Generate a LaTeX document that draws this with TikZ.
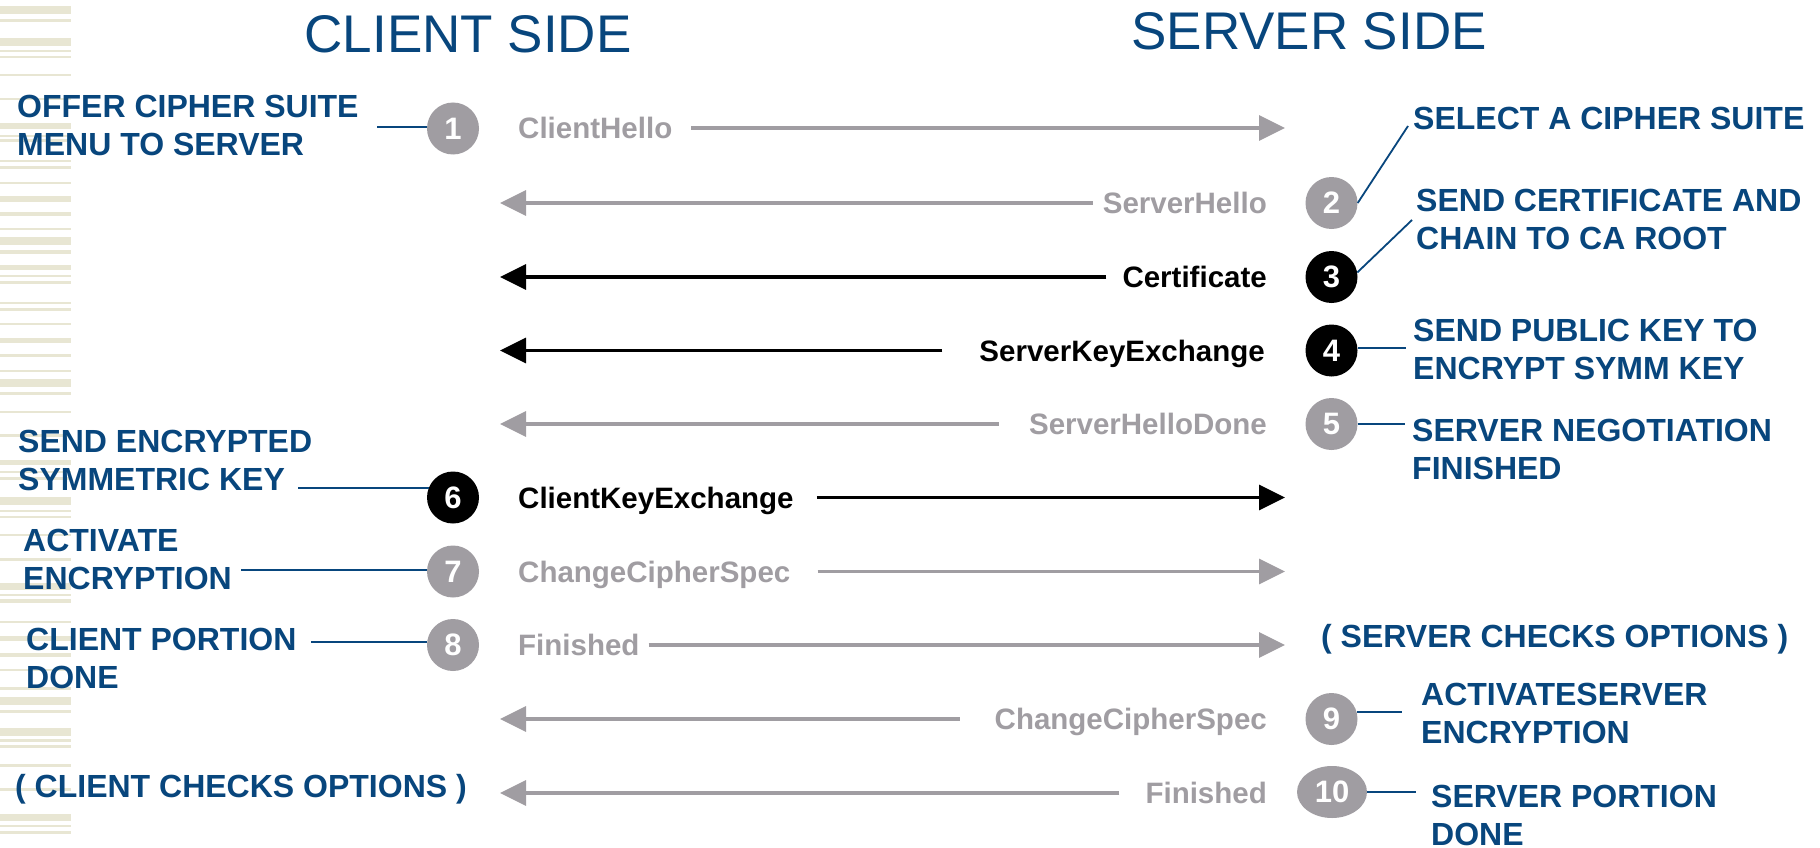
\documentclass[tikz,border=0pt]{standalone}
\usepackage{fontspec}
\setmainfont{Liberation Sans}
\usetikzlibrary{arrows.meta,shapes.geometric}
\definecolor{navy}{RGB}{8,70,125}
\definecolor{msggray}{RGB}{160,157,162}
\definecolor{stripe}{RGB}{232,230,211}
\begin{document}
\begin{tikzpicture}[x=1pt,y=-1pt,
  title/.style={font=\fontsize{53}{60}\selectfont, text=navy, inner sep=0, anchor=base},
  lbl/.style={font=\bfseries\fontsize{32}{38}\selectfont, text=navy, inner sep=0, align=left, anchor=north west},
  lblone/.style={font=\bfseries\fontsize{32}{38}\selectfont, text=navy, inner sep=0, anchor=base west},
  msg/.style={font=\bfseries\fontsize{29.5}{34}\selectfont, inner sep=0},
  gmsg/.style={msg, text=msggray},
  bmsg/.style={msg, text=black},
  num/.style={circle, minimum size=52pt, inner sep=0, text=white, font=\bfseries\fontsize{31}{34}\selectfont},
  gnum/.style={num, fill=msggray},
  bnum/.style={num, fill=black},
  link/.style={draw=navy, line width=1.8pt},
  garrow/.style={draw=msggray, line width=3.5pt, -{Triangle[length=26pt,width=25pt]}},
  barrow/.style={draw=black, line width=3.5pt, -{Triangle[length=26pt,width=25pt]}}
]
\useasboundingbox (0,0) rectangle (1820,848);
\fill[white] (0,0) rectangle (1820,848);
% decorative stripes
\foreach \a/\b in {6/14, 19/22, 38/46, 50/52, 56/58, 74/76, 98/100, 123/129, 135/137, 139/142, 160/162, 166/169, 182/184, 196/202, 212/216, 228/230, 237/245, 250/254, 265/270, 275/277, 281/284, 302/304, 308/311, 323/325, 338/343, 354/357, 370/372, 379/387, 392/395, 411/413, 434/437, 460/465, 471/473, 477/480, 497/505, 510/512, 516/518, 534/536, 558/561, 583/590, 594/596, 599/603, 621/623, 636/641, 653/657, 669/671, 687/690, 697/705, 710/713, 728/736, 739/742, 745/748, 764/767, 788/791, 814/821, 825/827, 831/834}
  \fill[stripe] (0,\a) rectangle (71,\b);

% titles
\node[title] (client) at (468,53) {CLIENT SIDE};
\node[title] (server) at (1309,50) {SERVER SIDE};

% arrow end coordinates
\coordinate (s1) at (1285,128);
\coordinate (c2) at (500,203);
\coordinate (c3) at (500,277);
\coordinate (c4) at (500,350.5);
\coordinate (c5) at (500,424);
\coordinate (s6) at (1285,497.5);
\coordinate (s7) at (1285,571.5);
\coordinate (s8) at (1285,645);
\coordinate (c9) at (500,719);
\coordinate (c10) at (500,793);

% number circles
\node[gnum] (n1) at (453,128.5) {1};
\node[gnum] (n2) at (1331.5,203) {2};
\node[bnum] (n3) at (1331.5,277) {3};
\node[bnum] (n4) at (1331.5,350.5) {4};
\node[gnum] (n5) at (1331.5,424) {5};
\node[bnum] (n6) at (453,497.5) {6};
\node[gnum] (n7) at (453,571.5) {7};
\node[gnum] (n8) at (453,645) {8};
\node[gnum] (n9) at (1331.5,719) {9};
\node[gnum, shape=ellipse, minimum width=70pt, minimum height=52pt] (n10) at (1332,792) {10};

% messages (baseline = row + 10.5)
\node[gmsg, anchor=base west] (t1) at (518,138.5) {ClientHello};
\node[gmsg, anchor=base east] (t2) at (1267,213.5) {ServerHello};
\node[bmsg, anchor=base east] (t3) at (1267,287.5) {Certificate};
\node[bmsg, anchor=base east] (t4) at (1265,361) {ServerKeyExchange};
\node[gmsg, anchor=base east] (t5) at (1267,434.5) {ServerHelloDone};
\node[bmsg, anchor=base west] (t6) at (518,508) {ClientKeyExchange};
\node[gmsg, anchor=base west] (t7) at (518,582) {ChangeCipherSpec};
\node[gmsg, anchor=base west] (t8) at (518,655.5) {Finished};
\node[gmsg, anchor=base east] (t9) at (1267,729.5) {ChangeCipherSpec};
\node[gmsg, anchor=base east] (t10) at (1267,803.5) {Finished};

% arrows
\draw[garrow] (t1.east |- s1) ++(19,0) -- (s1);
\draw[garrow] (t2.west |- c2) ++(-10,0) -- (c2);
\draw[barrow] (t3.west |- c3) ++(-16,0) -- (c3);
\draw[barrow] (t4.west |- c4) ++(-37,0) -- (c4);
\draw[garrow] (t5.west |- c5) ++(-30,0) -- (c5);
\draw[barrow] (t6.east |- s6) ++(23,0) -- (s6);
\draw[garrow] (t7.east |- s7) ++(27,0) -- (s7);
\draw[garrow] (t8.east |- s8) ++(9,0) -- (s8);
\draw[garrow] (t9.west |- c9) ++(-35,0) -- (c9);
\draw[garrow] (t10.west |- c10) ++(-26,0) -- (c10);

% left labels
\node[lbl] (l1) at (17,95) {OFFER CIPHER SUITE\\MENU TO SERVER};
\node[lbl] (l6) at (18,430) {SEND ENCRYPTED\\SYMMETRIC KEY};
\node[lbl] (l7) at (23,529) {ACTIVATE\\ENCRYPTION};
\node[lbl] (l8) at (26,628) {CLIENT PORTION\\DONE};
\node[lblone] (l10) at (15,797) {( CLIENT CHECKS OPTIONS )};

% right labels
\node[lblone] (r2) at (1413,130) {SELECT A CIPHER SUITE};
\node[lbl] (r3) at (1416,189) {SEND CERTIFICATE AND\\CHAIN TO CA ROOT};
\node[lbl] (r4) at (1413,319) {SEND PUBLIC KEY TO\\ENCRYPT SYMM KEY};
\node[lbl] (r5) at (1412,419) {SERVER NEGOTIATION\\FINISHED};
\node[lblone] (r8) at (1321,647) {( SERVER CHECKS OPTIONS )};
\node[lbl] (r9) at (1421,683) {ACTIVATESERVER\\ENCRYPTION};
\node[lbl] (r10) at (1431,785) {SERVER PORTION\\DONE};

% link free ends
\coordinate (a1) at (377,127);
\coordinate (a6) at (298,488);
\coordinate (a7) at (241,570);
\coordinate (a8) at (311,642);
\coordinate (b2) at (1408,126);
\coordinate (b3) at (1412,220);
\coordinate (b4) at (1406,348);
\coordinate (b5) at (1405,424);
\coordinate (b9) at (1402,712);
\coordinate (b10) at (1416,793);

% links
\draw[link] (n1.176) -- (n1.176 -| a1);
\draw[link] (n6.159) -- (n6.159 -| a6);
\draw[link] (n7.177) -- (n7.177 -| a7);
\draw[link] (n8.173) -- (n8.173 -| a8);
\draw[link] (n2.0) -- (b2);
\draw[link] (n3.10) -- (b3);
\draw[link] (n4.5) -- (n4.5 -| b4);
\draw[link] (n5.east) -- (n5.east -| b5);
\draw[link] (n9.16) -- (n9.16 -| b9);
\draw[link] (n10.east) -- (n10.east -| b10);
\end{tikzpicture}
\end{document}
